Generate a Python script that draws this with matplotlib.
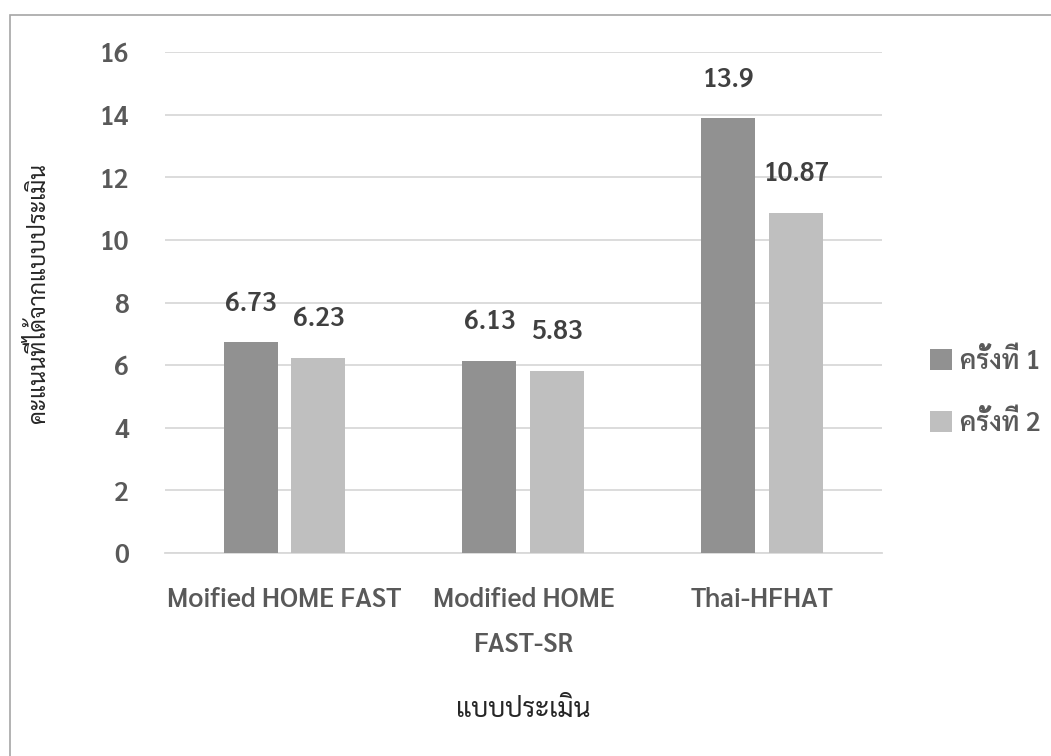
import matplotlib
matplotlib.use("Agg")
import matplotlib.pyplot as plt
import numpy as np

plt.rcParams['font.family'] = ['Sarabun', 'Noto Sans Thai', 'DejaVu Sans']

categories = ['Moified HOME FAST', 'Modified HOME\nFAST-SR', 'Thai-HFHAT']
round1 = [6.73, 6.13, 13.9]
round2 = [6.23, 5.83, 10.87]
series_names = ['ครั้งที่ 1', 'ครั้งที่ 2']
yticks = [0, 2, 4, 6, 8, 10, 12, 14, 16]

text_color = '#595959'
grid_color = '#d9d9d9'
fs = 19
weight = 'semibold'

fig = plt.figure(figsize=(10.51, 7.56), dpi=100)
ax = fig.add_axes([0.157, 0.2685, 0.682, 0.6625])

x = np.arange(len(categories))
w = 0.226
off = 0.142
b1 = ax.bar(x - off, round1, w, color='#919191', label=series_names[0], zorder=3)
b2 = ax.bar(x + off, round2, w, color='#bfbfbf', label=series_names[1], zorder=3)

for bars, vals in ((b1, round1), (b2, round2)):
    for rect, v in zip(bars, vals):
        ax.annotate(f'{v:g}', (rect.get_x() + rect.get_width() / 2, v),
                    xytext=(0, 28), textcoords='offset points',
                    ha='center', va='center', fontsize=fs, fontweight=weight,
                    color='#404040')

ax.set_xlim(-0.5, 2.5)
ax.set_ylim(0, 16)
ax.set_yticks(yticks)
ax.yaxis.grid(True, color=grid_color, linewidth=1.3, zorder=0)
ax.set_xticks(x)
ax.set_xticklabels(categories, linespacing=1.9)
for s in ('top', 'right', 'left'):
    ax.spines[s].set_visible(False)
ax.spines['bottom'].set_color(grid_color)
ax.spines['bottom'].set_linewidth(1.3)
ax.tick_params(length=0, labelsize=fs, labelcolor=text_color)
ax.tick_params(axis='y', pad=26)
ax.tick_params(axis='x', pad=24)
for t in ax.get_xticklabels() + ax.get_yticklabels():
    t.set_fontweight(weight)

ax.set_xlabel('แบบประเมิน', fontsize=fs, color='#262626', labelpad=28)
ax.set_ylabel('คะแนนที่ได้จากแบบประเมิน', fontsize=16.5, color='#262626')
ax.yaxis.set_label_coords(-0.160, 0.519)

leg = ax.legend(loc='center left', bbox_to_anchor=(0.872, 0.481),
                bbox_transform=fig.transFigure, frameon=False, borderpad=0,
                fontsize=fs, labelspacing=1.35, handlelength=0.85, handleheight=0.85,
                handletextpad=0.3)
for t in leg.get_texts():
    t.set_color(text_color)
    t.set_fontweight(weight)

# outer chart frame
fig.add_artist(plt.Rectangle((10 / 1051, -0.1), 1.2, 1 - 15 / 756 + 0.1,
                             transform=fig.transFigure, fill=False,
                             edgecolor='#a6a6a6', linewidth=1.2))

fig.savefig('out.png', dpi=100)
